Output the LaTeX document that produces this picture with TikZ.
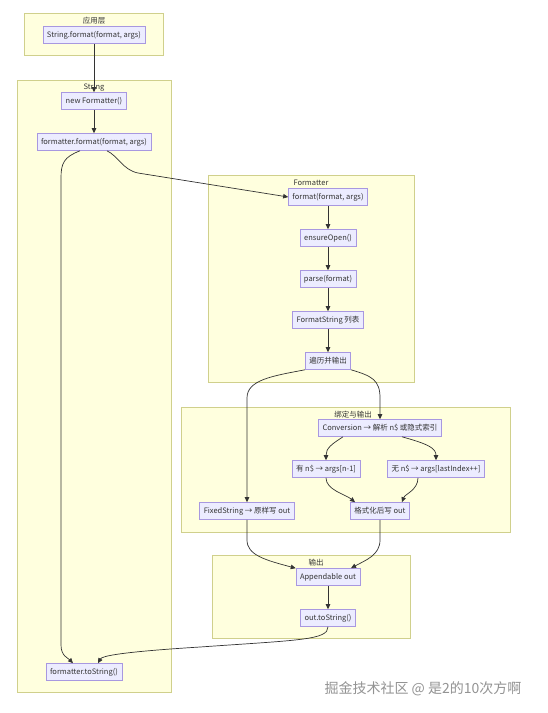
\documentclass[tikz,border=0pt]{standalone}
\usepackage{fontspec}
\setmainfont{Noto Sans CJK SC}
\usetikzlibrary{arrows.meta}

\definecolor{clusterfill}{HTML}{FFFFDE}
\definecolor{clusterline}{HTML}{D0D08C}
\definecolor{boxfill}{HTML}{ECECFF}
\definecolor{boxline}{HTML}{A898E0}
\definecolor{inkgray}{HTML}{333333}

\tikzset{
  cluster/.style={draw=clusterline, fill=clusterfill, line width=0.6pt},
  clustertitle/.style={font=\fontsize{7.5}{8}\selectfont, text=inkgray, inner sep=0pt},
  callbox/.style={draw=boxline, fill=boxfill, line width=0.6pt, font=\fontsize{7.5}{8}\selectfont,
    text=inkgray, minimum height=17pt, inner xsep=4pt, inner ysep=0pt},
  edge/.style={draw=inkgray, line width=0.7pt, -{Triangle[length=5pt,width=4.5pt]}},
}

\begin{document}
\begin{tikzpicture}[x=1pt,y=-1pt]
\useasboundingbox (0,0) rectangle (547,713);
\fill[white] (0,0) rectangle (547,713);

% Draw the clusters
\draw[cluster] (24,13) rectangle (163,55);
\draw[cluster] (17,80) rectangle (171,692);
\draw[cluster] (208,175) rectangle (414,382);
\draw[cluster] (181,407) rectangle (510,532);
\draw[cluster] (212,555) rectangle (410,638);

\node[clustertitle] (apptitle) at (94,21) {应用层};
\node[clustertitle] (strtitle) at (94,88) {String};
\node[clustertitle] (fmtrtitle) at (311,183) {Formatter};
\node[clustertitle] (bindtitle) at (353,415) {绑定与输出};
\node[clustertitle] (outtitle) at (316,563) {输出};

% Draw the call boxes
\node[callbox] (callfmt) at (94,35) {String.format(format, args)};
\node[callbox] (newfmt) at (94,101) {new Formatter()};
\node[callbox] (fmtcall) at (94,142) {formatter.format(format, args)};
\node[callbox] (tostr) at (84,672) {formatter.toString()};

\node[callbox] (fmtentry) at (328,197) {format(format, args)};
\node[callbox] (ensure) at (328,238) {ensureOpen()};
\node[callbox] (parse) at (328,279) {parse(format)};
\node[callbox] (fslist) at (328,320) {FormatString 列表};
\node[callbox] (walk) at (328,361) {遍历并输出};

\node[callbox] (conv) at (380,428) {Conversion → 解析 n\$ 或隐式索引};
\node[callbox] (hasidx) at (326,469) {有 n\$ → args[n-1]};
\node[callbox] (noidx) at (436,469) {无 n\$ → args[lastIndex++]};
\node[callbox] (fixed) at (247,511) {FixedString → 原样写 out};
\node[callbox] (fmtout) at (380,511) {格式化后写 out};

\node[callbox] (appout) at (328,577) {Appendable out};
\node[callbox] (outstr) at (328,618) {out.toString()};

% Draw the arrows
\draw[edge] (callfmt) -- (newfmt);
\draw[edge] (newfmt) -- (fmtcall);
\draw[edge] ([xshift=-14pt]fmtcall.south) .. controls (64,157) and (61,163) .. (61,178)
  -- (61,645) .. controls (61,656) and (68,658) .. ([xshift=-11pt]tostr.north);
\draw[edge] ([xshift=13pt]fmtcall.south) .. controls (118,156) and (123,170) .. (138,173)
  -- (fmtentry.west);

\draw[edge] (fmtentry) -- (ensure);
\draw[edge] (ensure) -- (parse);
\draw[edge] (parse) -- (fslist);
\draw[edge] (fslist) -- (walk);

\draw[edge] (walk.south west) .. controls (272,376) and (247,380) .. (247,398) -- (fixed.north);
\draw[edge] (walk.south east) .. controls (372,376) and (380,380) .. (380,398) -- (conv.north);

\draw[edge] ([xshift=-37pt]conv.south) .. controls (332,444) and (326,448) .. (hasidx.north);
\draw[edge] ([xshift=22pt]conv.south) .. controls (428,444) and (436,448) .. (noidx.north);
\draw[edge] (hasidx.south) .. controls (326,490) and (345,494) .. ([xshift=-25pt]fmtout.north);
\draw[edge] ([xshift=-18pt]noidx.south) .. controls (418,490) and (405,494) .. ([xshift=22pt]fmtout.north);

\draw[edge] (fixed.south) -- (247,540) .. controls (247,555) and (265,560) .. (appout.north west);
\draw[edge] (fmtout.south) -- (380,540) .. controls (380,555) and (366,560) .. ([xshift=23pt]appout.north);
\draw[edge] (appout) -- (outstr);
\draw[edge] (outstr.south) .. controls (328,640) and (300,640) .. (200,647)
  .. controls (120,652) and (102,656) .. ([xshift=14pt]tostr.north);

% Watermark
\node[font=\fontsize{14}{15}\selectfont, text=gray!85, inner sep=0pt] (mark) at (423,689) {掘金技术社区 @ 是2的10次方啊};
\end{tikzpicture}
\end{document}
